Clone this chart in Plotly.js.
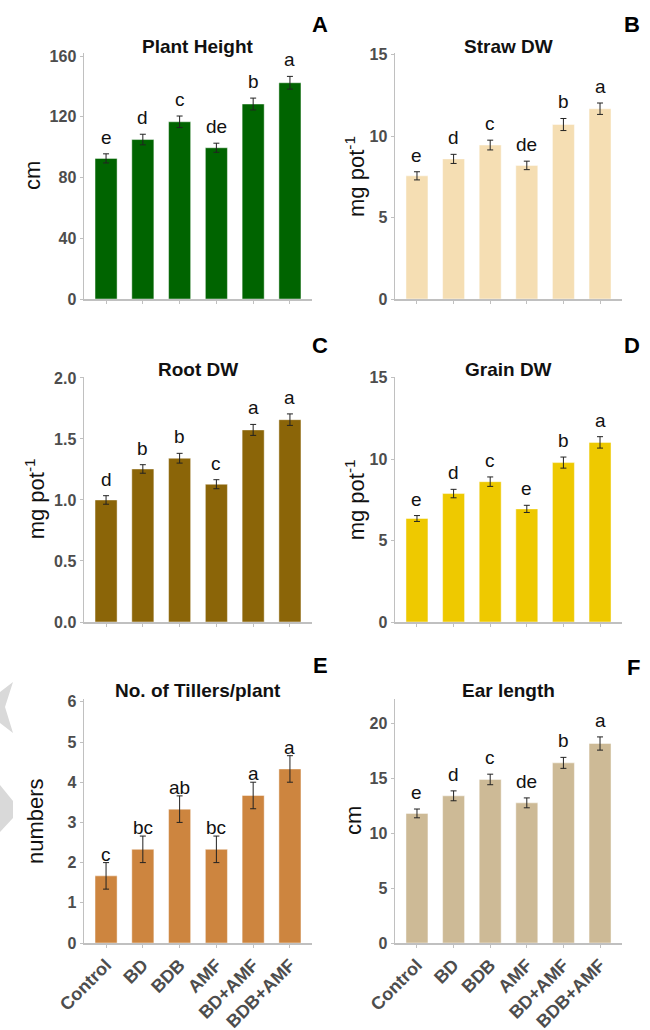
<!DOCTYPE html>
<html>
<head>
<meta charset="utf-8">
<script src="https://cdn.plot.ly/plotly-3.0.1.min.js"></script>
<style>html,body{margin:0;padding:0;background:#fff;}#chart{width:650px;height:1030px;}</style>
</head>
<body>
<div id="chart"></div>
<script>
// ---------- data ----------
var categories = ['Control', 'BD', 'BDB', 'AMF', 'BD+AMF', 'BDB+AMF'];

var plantHeight = [92.6, 105.0, 116.7, 99.6, 128.4, 142.4];
var plantHeightSE = [3.0, 3.5, 3.8, 3.0, 3.9, 4.2];
var plantHeightLetters = ['e', 'd', 'c', 'de', 'b', 'a'];

var strawDW = [7.56, 8.6, 9.45, 8.2, 10.71, 11.68];
var strawDWSE = [0.25, 0.28, 0.3, 0.26, 0.37, 0.35];
var strawDWLetters = ['e', 'd', 'c', 'de', 'b', 'a'];

var rootDW = [1.0, 1.254, 1.342, 1.129, 1.574, 1.658];
var rootDWSE = [0.035, 0.035, 0.04, 0.037, 0.045, 0.047];
var rootDWLetters = ['d', 'b', 'b', 'c', 'a', 'a'];

var grainDW = [6.35, 7.88, 8.61, 6.94, 9.78, 11.02];
var grainDWSE = [0.18, 0.26, 0.29, 0.22, 0.34, 0.35];
var grainDWLetters = ['e', 'd', 'c', 'e', 'b', 'a'];

var tillers = [1.67, 2.33, 3.33, 2.33, 3.67, 4.33];
var tillersSE = [0.33, 0.33, 0.33, 0.33, 0.33, 0.33];
var tillersLetters = ['c', 'bc', 'ab', 'bc', 'a', 'a'];

var earLength = [11.79, 13.39, 14.88, 12.75, 16.39, 18.15];
var earLengthSE = [0.4, 0.45, 0.48, 0.45, 0.5, 0.6];
var earLengthLetters = ['e', 'd', 'c', 'de', 'b', 'a'];

var panelTitles = ['Plant Height', 'Straw DW', 'Root DW', 'Grain DW', 'No. of Tillers/plant', 'Ear length'];
var panelLabels = ['A', 'B', 'C', 'D', 'E', 'F'];
var yTitles = ['cm', 'mg pot<sup>-1</sup>', 'mg pot<sup>-1</sup>', 'mg pot<sup>-1</sup>', 'numbers', 'cm'];

// ---------- layout helpers ----------
var W = 650, H = 1030;
function px(x) { return x / W; }
function py(y) { return 1 - y / H; }

var FONT = 'Liberation Sans, Arial, Helvetica, sans-serif';

var panels = [
  {vals: plantHeight, se: plantHeightSE, letters: plantHeightLetters, color: '#006400', range: [0, 162], tickvals: [0, 40, 80, 120, 160], fmt: '', col: 0, row: 0, shift: 4},
  {vals: strawDW, se: strawDWSE, letters: strawDWLetters, color: '#F5DEB3', range: [0, 15.1], tickvals: [0, 5, 10, 15], fmt: '', col: 1, row: 0, shift: 4},
  {vals: rootDW, se: rootDWSE, letters: rootDWLetters, color: '#8B6508', range: [0, 2.01], tickvals: [0, 0.5, 1.0, 1.5, 2.0], fmt: '.1f', col: 0, row: 1, shift: 4},
  {vals: grainDW, se: grainDWSE, letters: grainDWLetters, color: '#EEC900', range: [0, 15.05], tickvals: [0, 5, 10, 15], fmt: '', col: 1, row: 1, shift: 4},
  {vals: tillers, se: tillersSE, letters: tillersLetters, color: '#CD853F', range: [0, 6.07], tickvals: [0, 1, 2, 3, 4, 5, 6], fmt: '', col: 0, row: 2, shift: -4},
  {vals: earLength, se: earLengthSE, letters: earLengthLetters, color: '#CDBA96', range: [0, 22.2], tickvals: [0, 5, 10, 15, 20], fmt: '', col: 1, row: 2, shift: 4}
];

var colX = [[84, 312], [395, 622]];
var rowY = [[53, 299], [376.7, 622], [699, 943]];
var titleY = [47, 369, 690];
var labelPos = [[320, 25], [632, 25], [320, 345], [632, 345], [320, 665], [633, 667]];
var yTitleX = [33, 355, 35, 355, 35, 353];

var data = [];
var layout = {
  width: W, height: H,
  margin: {l: 0, r: 0, t: 0, b: 0},
  paper_bgcolor: '#ffffff', plot_bgcolor: '#ffffff',
  showlegend: false,
  font: {family: FONT},
  annotations: [],
  shapes: []
};

panels.forEach(function (p, i) {
  var n = i + 1;
  var xa = n === 1 ? 'x' : 'x' + n;
  var ya = n === 1 ? 'y' : 'y' + n;
  var xk = n === 1 ? 'xaxis' : 'xaxis' + n;
  var yk = n === 1 ? 'yaxis' : 'yaxis' + n;
  var cx = colX[p.col], ry = rowY[p.row];

  data.push({
    type: 'bar', x: categories, y: p.vals, xaxis: xa, yaxis: ya,
    width: 0.6,
    marker: {color: p.color, line: {color: 'rgba(255,255,255,0.45)', width: 1}},
    error_y: {type: 'data', array: p.se, visible: true, color: '#222222', thickness: 1, width: 3},
    hoverinfo: 'x+y'
  });

  layout[xk] = {
    domain: [px(cx[0]), px(cx[1])],
    anchor: ya,
    type: 'category',
    range: [-0.6, 5.6],
    showline: true, linecolor: '#c0c0c0', linewidth: 1.5,
    ticks: 'outside', ticklen: 3, tickcolor: '#c0c0c0', tickwidth: 1,
    showgrid: false, zeroline: false,
    showticklabels: p.row === 2,
    tickangle: -45,
    tickfont: {family: FONT, size: 18, color: '#4d4d4d', weight: 'bold'}
  };
  layout[yk] = {
    domain: [py(ry[1]), py(ry[0])],
    anchor: xa,
    range: p.range,
    tickvals: p.tickvals,
    tickformat: p.fmt,
    showline: true, linecolor: '#c0c0c0', linewidth: 1.5,
    ticks: 'outside', ticklen: 3, tickcolor: '#c0c0c0', tickwidth: 1,
    showgrid: false, zeroline: false,
    tickfont: {family: FONT, size: 16, color: '#4d4d4d', weight: 'bold'}
  };

  // significance letters
  for (var k = 0; k < categories.length; k++) {
    layout.annotations.push({
      xref: xa, yref: ya, x: categories[k], y: p.vals[k] + p.se[k],
      text: p.letters[k], showarrow: false,
      yanchor: 'bottom', yshift: p.shift,
      font: {family: FONT, size: 19, color: '#111111'}
    });
  }

  // panel title
  layout.annotations.push({
    xref: 'paper', yref: 'paper',
    x: px((cx[0] + cx[1]) / 2), y: py(titleY[p.row]),
    text: '<b>' + panelTitles[i] + '</b>', showarrow: false,
    xanchor: 'center', yanchor: 'middle',
    font: {family: FONT, size: 19, color: '#111111'}
  });

  // panel label
  layout.annotations.push({
    xref: 'paper', yref: 'paper',
    x: px(labelPos[i][0]), y: py(labelPos[i][1]),
    text: '<b>' + panelLabels[i] + '</b>', showarrow: false,
    xanchor: 'center', yanchor: 'middle',
    font: {family: FONT, size: 22, color: '#000000'}
  });

  // y-axis title
  layout.annotations.push({
    xref: 'paper', yref: 'paper',
    x: px(yTitleX[i]), y: py((ry[0] + ry[1]) / 2),
    text: yTitles[i], showarrow: false, textangle: -90,
    xanchor: 'center', yanchor: 'middle',
    font: {family: FONT, size: 22, color: '#111111'}
  });
});

// faint grey chevron artefacts at left edge of the page
function pathFrom(pts) {
  return pts.map(function (q, j) { return (j === 0 ? 'M ' : 'L ') + px(q[0]) + ' ' + py(q[1]); }).join(' ') + ' Z';
}
layout.shapes.push({type: 'path', xref: 'paper', yref: 'paper', layer: 'below',
  path: pathFrom([[0, 692], [13, 682], [5, 707], [13, 733], [0, 723]]),
  fillcolor: '#d9d9d9', line: {width: 0}});
layout.shapes.push({type: 'path', xref: 'paper', yref: 'paper', layer: 'below',
  path: pathFrom([[0, 785], [13, 801], [13, 818], [0, 832]]),
  fillcolor: '#d9d9d9', line: {width: 0}});

Plotly.newPlot('chart', data, layout, {staticPlot: true, displayModeBar: false});
</script>
</body>
</html>
